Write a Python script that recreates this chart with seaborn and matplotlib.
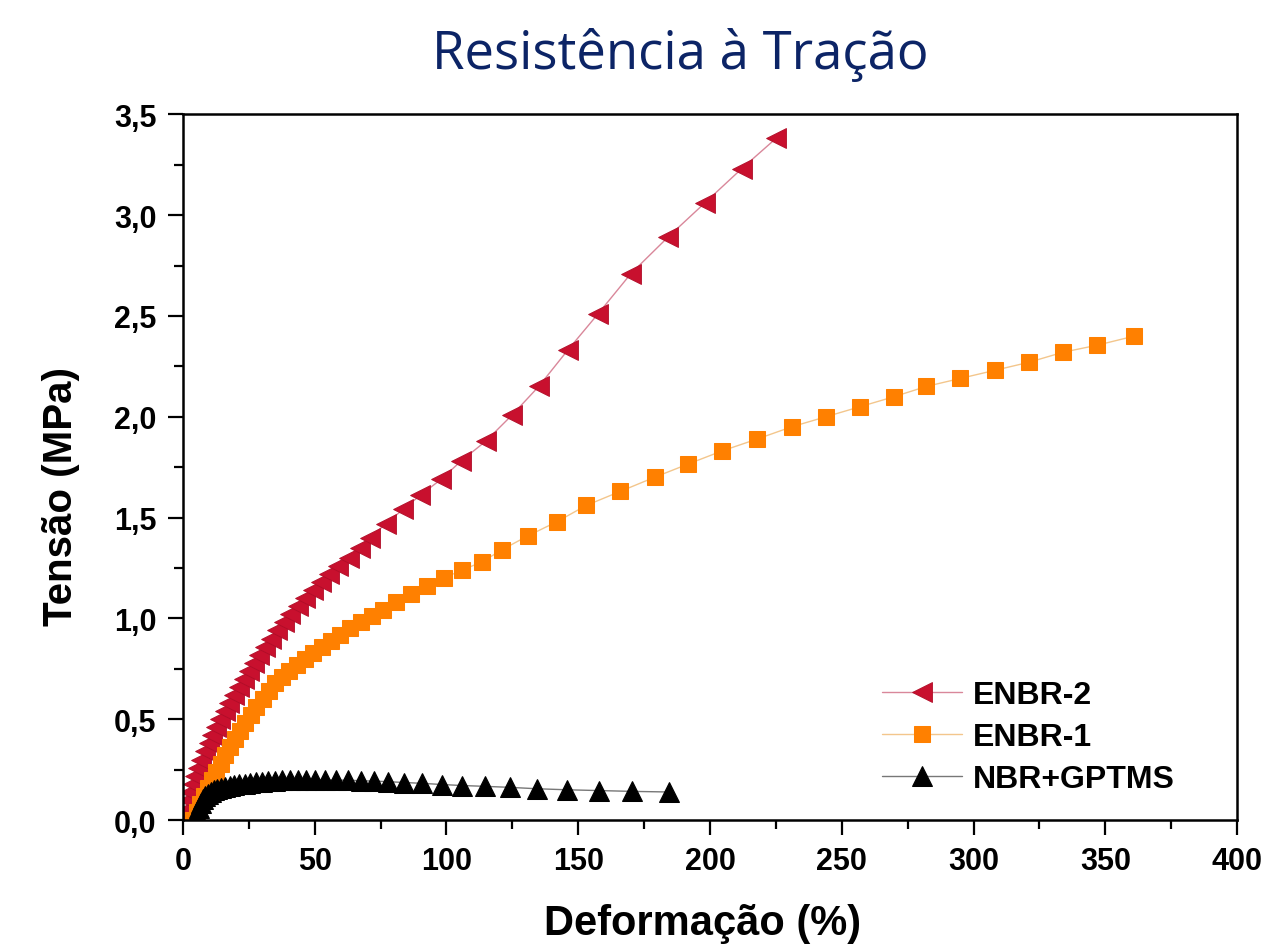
"""
Resistência à Tração - curvas tensão x deformação
ENBR-2, ENBR-1 e NBR+GPTMS
"""

import matplotlib
matplotlib.use('Agg')
import matplotlib.pyplot as plt
from matplotlib.ticker import MultipleLocator, FuncFormatter
import seaborn as sns

# ============================================================================
# 1. Dados
# ============================================================================
enbr2_def = [0.5, 1.2, 2.0, 2.8, 3.7, 4.7, 5.8, 7.0, 8.3, 9.7, 11.2, 12.7, 14.2,
             15.8, 17.5, 19.3, 21.2, 23.1, 25.0, 27.0, 29.0, 31.2, 33.5, 35.8,
             38.2, 40.8, 43.5, 46.3, 49.2, 52.3, 55.5, 59, 63, 67, 71, 77,
             83.5, 90, 98, 105.5, 115, 125, 135, 146, 157.5, 170, 184, 198,
             212, 225]
enbr2_ten = [0, 0.05, 0.10, 0.14, 0.18, 0.22, 0.26, 0.30, 0.34, 0.38, 0.42, 0.46,
             0.50, 0.54, 0.58, 0.62, 0.66, 0.70, 0.74, 0.78, 0.82, 0.86, 0.90, 0.94,
             0.98, 1.02, 1.06, 1.10, 1.14, 1.18, 1.22, 1.26, 1.30, 1.35, 1.40, 1.47,
             1.54, 1.61, 1.69, 1.78, 1.88, 2.01, 2.15, 2.33, 2.51, 2.71, 2.89,
             3.06, 3.23, 3.38]

enbr1_def = [4, 5.2, 6.5, 8, 9.5, 11, 12.6, 14.3, 16, 17.8, 19.7, 21.6, 23.6,
             25.7, 27.9, 30.2, 32.6, 35.1, 37.7, 40.4, 43.2, 46.2, 49.3, 52.6, 56,
             59.6, 63.4, 67.4, 71.6, 76, 81, 86.5, 92.5, 99, 106, 113.5, 121, 131,
             142, 153, 166, 179, 191.6, 204.5, 218, 231, 244, 257, 270, 282, 295,
             308, 321, 334, 347, 361]
enbr1_ten = [0, 0.04, 0.08, 0.12, 0.16, 0.20, 0.24, 0.28, 0.32, 0.36, 0.40, 0.44,
             0.48, 0.52, 0.56, 0.60, 0.64, 0.68, 0.71, 0.74, 0.77, 0.80, 0.83, 0.86,
             0.89, 0.92, 0.95, 0.98, 1.01, 1.04, 1.08, 1.12, 1.16, 1.20, 1.24, 1.28,
             1.34, 1.41, 1.48, 1.56, 1.63, 1.70, 1.765, 1.83, 1.89, 1.95, 2.00, 2.05,
             2.10, 2.15, 2.19, 2.23, 2.27, 2.32, 2.355, 2.40]

gptms_def = [4.5, 5.2, 6.0, 6.8, 7.6, 8.5, 9.5, 10.5, 11.7, 13, 14.5, 16, 17.7,
             19.5, 21.4, 23.4, 25.5, 27.7, 30, 32.4, 35, 37.7, 40.5, 43.5, 46.7,
             50.2, 54, 58, 62.5, 67.5, 72.5, 78, 84, 90.6, 98.4, 106, 114.6, 124,
             134.4, 145.6, 158, 170.4, 184.4]
gptms_ten = [0, 0.03, 0.06, 0.085, 0.105, 0.12, 0.13, 0.14, 0.148, 0.155, 0.16,
             0.165, 0.17, 0.174, 0.178, 0.181, 0.184, 0.187, 0.19, 0.192, 0.194,
             0.196, 0.197, 0.198, 0.199, 0.199, 0.199, 0.198, 0.197, 0.195, 0.193,
             0.19, 0.186, 0.182, 0.176, 0.171, 0.167, 0.162, 0.155, 0.15, 0.146,
             0.142, 0.139]

# ============================================================================
# 2. Estilo
# ============================================================================
sns.set_style('ticks')
plt.rcParams['font.family'] = ['Liberation Sans', 'DejaVu Sans']
plt.rcParams['text.color'] = 'black'
plt.rcParams['axes.labelcolor'] = 'black'
plt.rcParams['xtick.color'] = 'black'
plt.rcParams['ytick.color'] = 'black'

fig, ax = plt.subplots(figsize=(12.74, 9.45), dpi=100)
fig.subplots_adjust(left=0.1436, right=0.971, bottom=0.1312, top=0.878)

# ============================================================================
# 3. Curvas
# ============================================================================
sns.lineplot(x=enbr2_def, y=enbr2_ten, ax=ax, color='#d9879a', linewidth=1.0,
             marker='<', markersize=14, markerfacecolor='#c8102e',
             markeredgecolor='#b00d28', markeredgewidth=0.6, label='ENBR-2')
sns.lineplot(x=enbr1_def, y=enbr1_ten, ax=ax, color='#f3c68c', linewidth=1.0,
             marker='s', markersize=11, markerfacecolor='#ff8000',
             markeredgecolor='#ff8000', label='ENBR-1')
sns.lineplot(x=gptms_def, y=gptms_ten, ax=ax, color='#777777', linewidth=1.0,
             marker='^', markersize=14, markerfacecolor='black',
             markeredgecolor='black', label='NBR+GPTMS')

# ============================================================================
# 4. Eixos
# ============================================================================
ax.set_xlim(0, 400)
ax.set_ylim(0, 3.5)
ax.xaxis.set_major_locator(MultipleLocator(50))
ax.xaxis.set_minor_locator(MultipleLocator(25))
ax.yaxis.set_major_locator(MultipleLocator(0.5))
ax.yaxis.set_minor_locator(MultipleLocator(0.25))
ax.yaxis.set_major_formatter(FuncFormatter(lambda v, p: f'{v:.1f}'.replace('.', ',')))

for s in ax.spines.values():
    s.set_visible(True)
    s.set_linewidth(1.8)
    s.set_color('black')

ax.tick_params(which='major', direction='out', length=11, width=1.6, pad=8,
               labelsize=22, top=False, right=False)
ax.tick_params(which='minor', direction='out', length=6.5, width=1.6,
               top=False, right=False)
for lbl in ax.get_xticklabels() + ax.get_yticklabels():
    lbl.set_fontweight('bold')

ax.set_xlabel('Deformação (%)', fontsize=30, fontweight='bold')
ax.set_ylabel('Tensão (MPa)', fontsize=29, fontweight='bold')
ax.xaxis.set_label_coords(0.493, -0.118)
ax.yaxis.set_label_coords(-0.098, 0.46)

leg = ax.legend(loc='upper left', bbox_to_anchor=(0.642, 0.23), frameon=False,
                prop={'weight': 'bold', 'size': 23}, handlelength=2.5,
                labelspacing=0.38, handletextpad=0.35, borderpad=0.2, numpoints=1)

fig.text(0.534, 0.942, 'Resistência à Tração', ha='center', va='center',
         fontsize=38, color='#0c2466', family=['Open Sans', 'DejaVu Sans'])

plt.savefig('out.png', dpi=100)
